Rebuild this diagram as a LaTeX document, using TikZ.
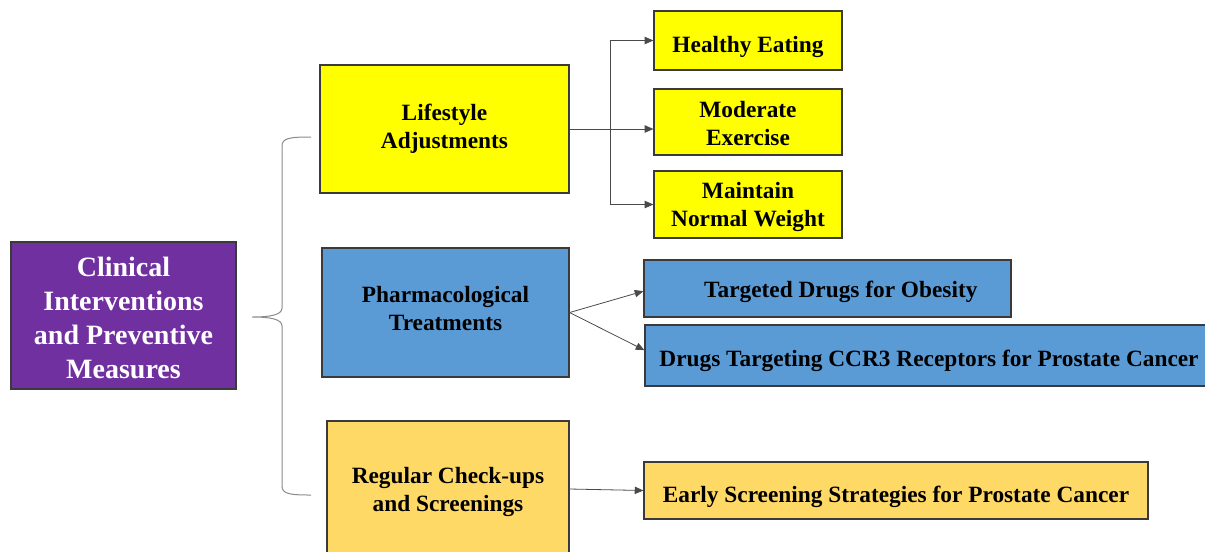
\documentclass[tikz,border=0pt]{standalone}
\usepackage{fontspec}
\setmainfont{Liberation Serif}
\usetikzlibrary{arrows.meta}
\definecolor{cpurple}{HTML}{7030A0}
\definecolor{cyellow}{HTML}{FFFF00}
\definecolor{cblue}{HTML}{5B9BD5}
\definecolor{cgold}{HTML}{FFD966}
\definecolor{cborder}{HTML}{3A3A3A}
\definecolor{cline}{HTML}{4A4A4A}
\definecolor{cbrace}{HTML}{8A8A8A}
\newcommand\txtshift[2]{\raisebox{#1}[\height][\depth]{\begin{tabular}{@{}c@{}}#2\end{tabular}}}
\tikzset{
  box/.style={draw=cborder, line width=0.9pt, rectangle, inner sep=0pt, align=center,
    font=\bfseries\fontsize{17.5}{21}\selectfont},
  conn/.style={draw=cline, line width=0.6pt, -{Triangle[length=6.5pt,width=5.5pt]}},
}
\begin{document}
\begin{tikzpicture}[x=0.75pt,y=-0.75pt]
\useasboundingbox (0,0) rectangle (1205,551);
\clip (0,0) rectangle (1205,551);
% main node
\node[box, fill=cpurple, text=white, minimum width=168.75pt, minimum height=110.25pt,
  font=\bfseries\fontsize{21}{25.5}\selectfont] (main) at (123.5,315.5)
  {\txtshift{-3.75pt}{Clinical\\Interventions\\and Preventive\\Measures}};
% level 1
\node[box, fill=cyellow, minimum width=186.75pt, minimum height=96pt] (life) at (444.5,129)
  {\txtshift{0pt}{Lifestyle\\Adjustments}};
\node[box, fill=cblue, minimum width=185.25pt, minimum height=96.75pt] (pharma) at (445.5,312.5)
  {\txtshift{1.5pt}{Pharmacological\\Treatments}};
\node[box, fill=cgold, minimum width=181.5pt, minimum height=102pt] (reg) at (448,489)
  {\txtshift{-2.25pt}{Regular Check-ups\\and Screenings}};
% level 2
\node[box, fill=cyellow, minimum width=141pt, minimum height=44.25pt] (heal) at (748,40.5)
  {\txtshift{-5pt}{Healthy Eating}};
\node[box, fill=cyellow, minimum width=141pt, minimum height=49.5pt] (exer) at (748,122)
  {\txtshift{-3pt}{Moderate\\Exercise}};
\node[box, fill=cyellow, minimum width=141pt, minimum height=50.25pt] (weight) at (748,204.5)
  {\txtshift{-1.75pt}{Maintain\\Normal Weight}};
\node[box, fill=cblue, minimum width=275.25pt, minimum height=42.75pt] (tgt) at (827.5,288.5)
  {\txtshift{-2.25pt}{\hspace*{20pt}Targeted Drugs for Obesity}};
\node[box, fill=cblue, minimum width=426pt, minimum height=45.75pt] (ccr) at (929,355.5)
  {\txtshift{-3.75pt}{Drugs Targeting CCR3 Receptors for Prostate Cancer}};
\node[box, fill=cgold, minimum width=378pt, minimum height=42.75pt] (early) at (896,490.5)
  {\txtshift{-5pt}{Early Screening Strategies for Prostate Cancer}};
% brace
\coordinate (btop) at (311,137);
\coordinate (bmid) at (252,317);
\coordinate (bbot) at (311,495);
\draw[cbrace, line width=0.75pt]
  (btop) .. controls (290,137) and (282,138) .. (282,146)
  -- (282,308) .. controls (282,315) and (270,317) .. (bmid)
  .. controls (270,317) and (282,319) .. (282,326)
  -- (282,486) .. controls (282,494) and (290,495) .. (bbot);
% lifestyle connectors
\coordinate (lj) at (610,129);
\draw[conn] (life.east) -- (life.east -| exer.west);
\draw[conn] (lj) |- (heal.west);
\draw[conn] (lj) |- (weight.west);
% pharma connectors
\draw[conn] (pharma.east) -- ([yshift=-2pt]tgt.west);
\draw[conn] (pharma.east) -- ([yshift=4pt]ccr.west);
% regular connector
\draw[conn] (reg.east) -- (early.west);
\end{tikzpicture}
\end{document}
